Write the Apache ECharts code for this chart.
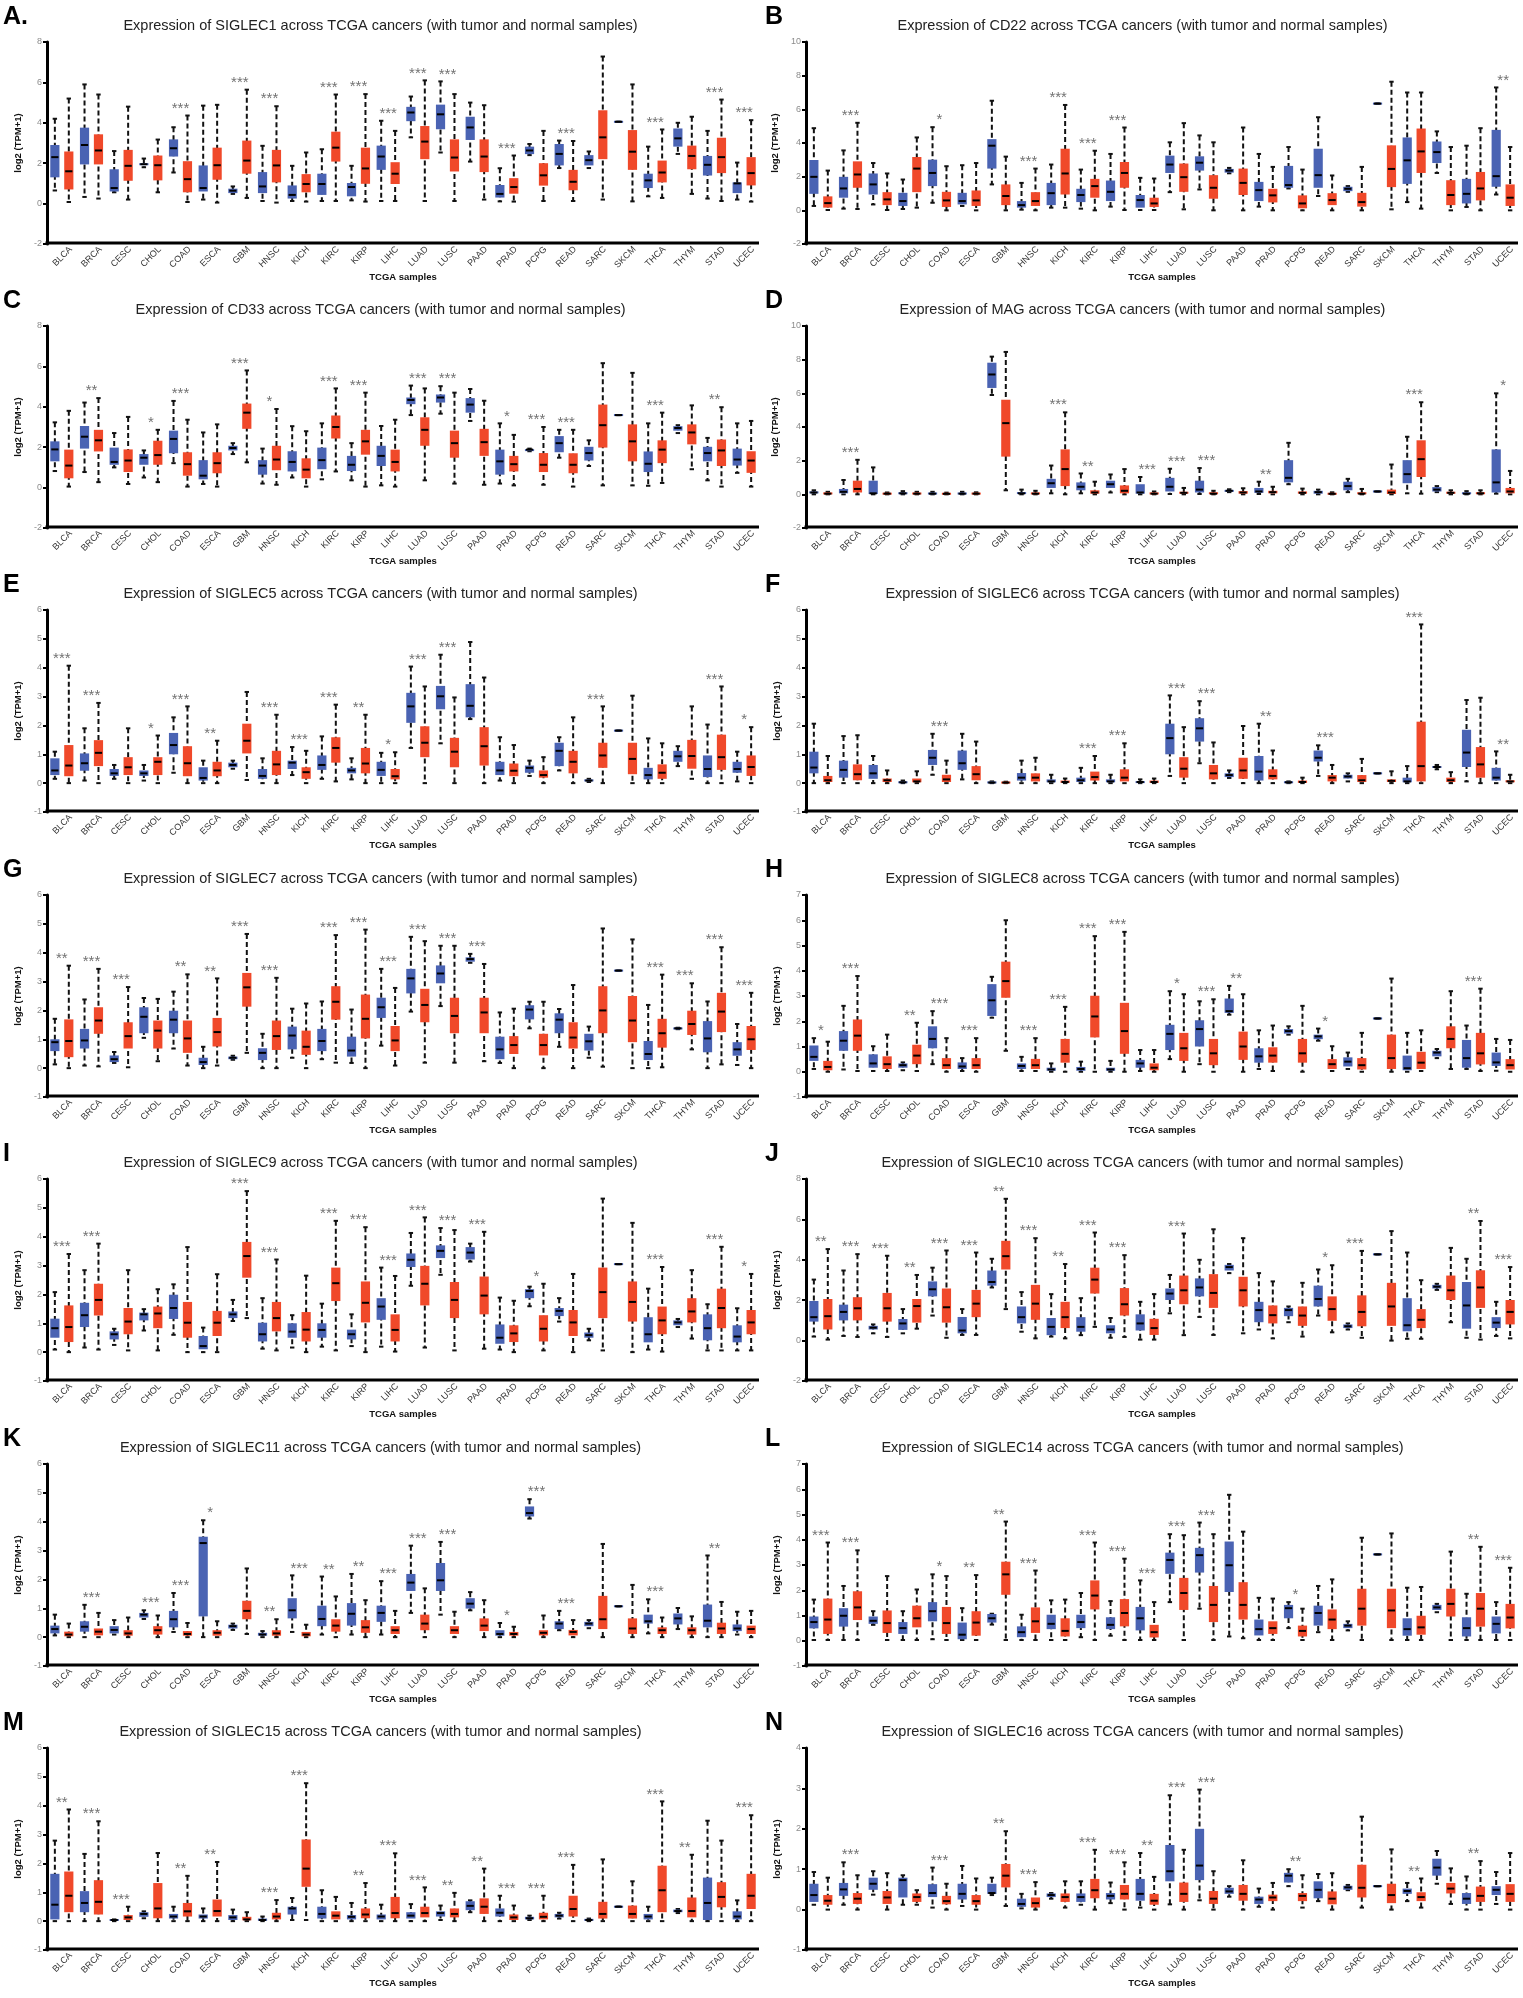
<!DOCTYPE html>
<html>
<head>
<meta charset="utf-8">
<title>SIGLEC expression across TCGA cancers</title>
<script src="https://cdn.jsdelivr.net/npm/echarts@6/dist/echarts.min.js"></script>
<style>
	body { margin: 0; background: #fff; }
	#page { position: relative; width: 1523px; height: 1998px; overflow: hidden; }
	.panel { position: absolute; width: 761px; height: 300px; }
</style>
</head>
<body>
<div id="page"></div>
<script>
// TCGA cancer types, same order in every panel
var cancers = ['BLCA', 'BRCA', 'CESC', 'CHOL', 'COAD', 'ESCA', 'GBM', 'HNSC', 'KICH', 'KIRC', 'KIRP', 'LIHC',
	'LUAD', 'LUSC', 'PAAD', 'PRAD', 'PCPG', 'READ', 'SARC', 'SKCM', 'THCA', 'THYM', 'STAD', 'UCEC'];

// every box is [min, Q1, median, Q3, max] in log2(TPM+1)
var siglec1Normal = [[0.65,1.3,2.3,2.9,4.2],[0.33,1.94,2.9,3.76,5.9],[0.56,0.6,0.77,1.7,2.6],[1.8,1.9,1.95,2.0,2.23],[1.54,2.33,2.74,3.18,3.78],[0.2,0.6,0.77,1.89,4.85],[0.48,0.52,0.64,0.74,0.85],[0.13,0.52,0.85,1.56,2.86],[0.13,0.25,0.43,0.9,1.87],[0.13,0.43,0.97,1.48,2.69],[0.16,0.36,0.82,1.02,1.87],[0.13,1.67,2.33,2.87,4.1],[3.28,4.08,4.51,4.79,5.3],[2.53,3.68,4.42,4.9,6.05],[2.08,3.15,3.77,4.3,5.0],[0.11,0.3,0.48,0.92,1.75],[2.4,2.45,2.63,2.82,2.95],[1.76,1.89,2.46,2.95,3.12],[1.76,1.89,2.15,2.4,2.58],[4.05,4.05,4.05,4.05,4.05],[0.36,0.77,1.15,1.48,2.82],[2.46,2.82,3.23,3.72,4.0],[0.25,1.39,1.92,2.36,3.6],[0.2,0.52,1.0,1.05,2.03]];
var siglec1Tumor = [[0.08,0.7,1.6,2.58,5.2],[0.25,1.94,2.63,3.43,5.4],[0.2,1.13,1.87,2.66,4.8],[0.56,1.15,1.9,2.38,3.17],[0.08,0.56,1.21,2.1,4.36],[0.05,1.18,1.9,2.77,4.89],[0.28,1.48,2.13,3.12,5.64],[0.05,1.05,1.89,2.66,4.82],[0.1,0.56,0.97,1.46,2.53],[0.13,2.08,2.77,3.56,5.4],[0.1,0.98,1.74,2.77,5.42],[0.13,0.97,1.48,2.05,3.6],[0.13,2.2,3.07,3.84,6.1],[0.13,1.59,2.28,3.18,5.42],[0.2,1.56,2.33,3.18,4.87],[0.1,0.49,0.82,1.26,2.38],[0.13,0.89,1.4,2.0,3.6],[0.13,0.66,1.08,1.67,3.1],[0.2,2.2,3.28,4.62,7.28],[0.11,1.67,2.57,3.64,5.9],[0.28,1.05,1.54,2.13,3.67],[0.48,1.7,2.36,2.87,4.3],[0.13,1.51,2.3,3.26,5.15],[0.1,0.9,1.51,2.3,4.13]];
var siglec1Stars = ['','','','','***','','***','***','','***','***','***','***','***','','***','','***','','','***','','***','***'];

var cd22Normal = [[0.26,0.98,1.99,2.99,4.88],[0.1,0.75,1.3,1.99,3.56],[0.35,0.94,1.54,2.19,2.81],[0.08,0.26,0.55,1.04,1.83],[0.45,1.44,2.22,3.01,4.94],[0.26,0.35,0.55,1.04,2.68],[1.54,2.48,3.84,4.23,6.51],[0.04,0.16,0.31,0.55,1.63],[0.16,0.31,1.02,1.63,2.72],[0.1,0.49,0.91,1.28,2.42],[0.22,0.55,1.1,1.77,3.35],[0.02,0.16,0.61,0.91,1.93],[1.08,2.22,2.72,3.25,4.04],[1.24,2.36,2.83,3.21,4.45],[2.2,2.24,2.36,2.46,2.52],[0.22,0.55,1.2,1.69,3.35],[1.3,1.34,1.5,2.64,3.76],[0.85,1.34,2.09,3.66,5.53],[1.1,1.14,1.28,1.4,1.44],[6.34,6.34,6.34,6.34,6.34],[0.49,1.57,2.97,4.33,7.0],[2.22,2.81,3.46,4.09,4.69],[0.2,0.41,0.98,1.87,3.84],[0.94,1.4,2.03,4.78,7.3]];
var cd22Tumor = [[0.02,0.16,0.43,0.83,2.36],[0.08,1.34,2.13,2.91,5.2],[0.02,0.31,0.65,1.08,2.19],[0.16,1.08,2.48,3.17,4.33],[0,0.2,0.59,1.1,2.62],[0,0.26,0.59,1.18,2.81],[0,0.31,0.85,1.54,3.19],[0,0.26,0.55,1.08,2.48],[0.16,0.94,2.19,3.66,6.26],[0,0.75,1.44,1.87,3.54],[0.02,1.34,2.22,2.87,4.92],[0.02,0.2,0.41,0.75,1.89],[0.06,1.1,1.97,2.78,5.18],[0,0.69,1.34,2.09,4.04],[0,0.91,1.63,2.48,4.92],[0,0.47,0.89,1.28,2.58],[0,0.12,0.41,0.89,2.42],[0,0.31,0.61,1.02,2.07],[0,0.22,0.49,1.04,2.58],[0.06,1.38,2.46,3.86,7.64],[0.1,2.22,3.5,4.86,7.0],[0,0.31,0.91,1.79,3.76],[0,0.59,1.3,2.28,4.88],[0,0.26,0.75,1.54,3.76]];
var cd22Stars = ['','***','','','*','','','***','***','***','***','','','','','','','','','','','','','**'];

var cd33Normal = [[0.82,1.3,1.89,2.29,3.23],[0.77,1.93,2.52,3.05,4.21],[1.0,1.13,1.27,1.98,2.7],[0.5,1.13,1.48,1.66,1.84],[1.21,1.7,2.41,2.82,4.29],[0.18,0.41,0.59,1.36,2.73],[1.66,1.84,1.96,2.07,2.2],[0.2,0.64,1.09,1.36,1.93],[0.5,0.8,1.27,1.8,3.04],[0.41,0.91,1.36,1.98,3.18],[0.36,0.82,1.13,1.57,2.2],[0.11,1.07,1.57,2.07,3.05],[3.59,4.13,4.34,4.46,5.05],[3.66,4.21,4.46,4.61,5.02],[3.3,3.71,4.11,4.43,4.88],[0.2,0.64,1.3,1.88,3.18],[1.8,1.82,1.88,1.89,1.93],[1.48,1.75,2.2,2.55,2.86],[1.07,1.34,1.71,2.02,2.34],[3.59,3.59,3.59,3.59,3.59],[0.09,0.77,1.18,1.79,3.18],[2.7,2.82,2.95,3.04,3.09],[0.36,1.3,1.71,2.02,2.46],[0.73,1.09,1.39,1.93,3.18]];
var cd33Tumor = [[0.05,0.46,1.09,1.88,3.8],[0.27,1.79,2.34,2.86,4.43],[0.18,0.77,1.34,1.89,3.5],[0.27,1.13,1.61,2.32,2.86],[0.05,0.59,1.16,1.75,3.36],[0.05,0.71,1.21,1.75,3.13],[1.25,2.91,3.71,4.16,5.8],[0.14,0.86,1.39,2.07,3.89],[0.05,0.46,0.89,1.45,2.79],[0.8,2.43,3.0,3.57,4.91],[0.05,1.63,2.29,2.86,4.7],[0.05,0.8,1.27,1.88,3.36],[0.36,2.07,2.86,3.48,4.91],[0.2,1.48,2.2,2.82,4.7],[0.14,1.57,2.25,2.91,4.3],[0.11,0.8,1.16,1.57,2.61],[0.14,0.77,1.13,1.71,3.0],[0.05,0.71,1.13,1.7,2.86],[0.11,1.98,3.09,4.11,6.16],[0.11,1.3,2.29,3.13,5.68],[0.23,1.21,1.88,2.34,3.71],[0.91,2.14,2.73,3.13,4.07],[0.05,1.07,1.84,2.38,3.98],[0.05,0.73,1.34,1.8,3.3]];
var cd33Stars = ['','**','','*','***','','***','*','','***','***','','***','***','','*','***','***','','','***','','**',''];

var magNormal = [[0,0.06,0.11,0.17,0.24],[0,0.06,0.15,0.32,0.85],[0,0.02,0.06,0.81,1.6],[0,0.02,0.06,0.11,0.19],[0,0.02,0.04,0.08,0.15],[0,0.02,0.04,0.08,0.15],[5.9,6.32,7.12,7.82,8.18],[0,0.02,0.06,0.13,0.28],[0.06,0.38,0.66,0.92,1.71],[0.06,0.24,0.45,0.71,1.24],[0.11,0.38,0.6,0.81,1.18],[0,0.04,0.11,0.6,1.03],[0.02,0.17,0.45,0.98,1.52],[0.02,0.11,0.28,0.81,1.56],[0.13,0.15,0.21,0.26,0.3],[0.02,0.09,0.17,0.38,0.75],[0.6,0.71,0.98,2.03,3.06],[0,0.04,0.13,0.21,0.28],[0.13,0.24,0.49,0.75,0.92],[0.17,0.17,0.17,0.17,0.17],[0.06,0.66,1.2,2.03,3.42],[0.13,0.17,0.28,0.43,0.49],[0,0.02,0.04,0.11,0.19],[0.04,0.11,0.71,2.67,6.0]];
var magTumor = [[0,0.02,0.04,0.09,0.15],[0,0.11,0.32,0.81,2.05],[0,0.02,0.04,0.06,0.11],[0,0.02,0.04,0.08,0.15],[0,0.01,0.03,0.06,0.1],[0,0.02,0.04,0.07,0.12],[0.24,2.24,4.23,5.62,8.46],[0,0.02,0.04,0.09,0.21],[0,0.49,1.5,2.67,4.87],[0,0.04,0.11,0.24,0.75],[0,0.06,0.21,0.53,1.5],[0,0.02,0.04,0.09,0.17],[0,0.04,0.09,0.15,0.38],[0,0.02,0.04,0.11,0.21],[0,0.04,0.11,0.19,0.36],[0,0.06,0.13,0.21,0.45],[0,0.04,0.09,0.17,0.34],[0,0.01,0.03,0.06,0.12],[0,0.02,0.04,0.11,0.32],[0,0.02,0.11,0.28,1.77],[0.04,1.03,2.09,3.21,5.47],[0,0.04,0.09,0.15,0.24],[0,0.02,0.06,0.11,0.24],[0,0.06,0.17,0.38,1.39]];
var magStars = ['','***','','','','','','','***','**','','***','***','***','','**','','','','','***','','','*'];

var siglec5Normal = [[0.15,0.28,0.44,0.86,1.09],[0.09,0.43,0.69,1.03,1.9],[0.15,0.25,0.34,0.49,0.63],[0.09,0.25,0.34,0.44,0.63],[0.36,1.0,1.32,1.74,2.28],[0,0.09,0.18,0.55,0.78],[0.5,0.55,0.63,0.71,0.78],[0,0.15,0.25,0.49,0.86],[0.28,0.49,0.71,0.78,1.25],[0.15,0.46,0.63,0.96,1.62],[0.13,0.34,0.44,0.53,0.86],[0,0.25,0.46,0.74,1.05],[1.22,2.09,2.66,3.13,4.04],[1.38,2.56,3.01,3.37,4.45],[2.22,2.28,2.68,3.43,4.89],[0.09,0.28,0.44,0.74,1.59],[0.25,0.36,0.53,0.61,0.78],[0.44,0.59,1.12,1.4,1.59],[0.04,0.06,0.09,0.13,0.15],[1.82,1.82,1.82,1.82,1.82],[0,0.13,0.28,0.53,1.55],[0.59,0.74,0.93,1.12,1.28],[0,0.21,0.49,0.96,2.03],[0.06,0.36,0.49,0.74,1.09]];
var siglec5Tumor = [[0,0.24,0.61,1.32,4.07],[0,0.59,1.05,1.49,2.78],[0,0.28,0.55,0.9,1.9],[0,0.28,0.74,0.9,1.65],[0,0.24,0.69,1.28,2.66],[0,0.24,0.44,0.74,1.47],[0.11,1.03,1.47,2.06,3.16],[0,0.28,0.65,1.12,2.37],[0,0.15,0.38,0.55,1.12],[0.06,0.71,1.22,1.59,2.72],[0,0.34,0.68,1.22,2.37],[0,0.13,0.24,0.49,1.07],[0,0.9,1.4,1.97,3.35],[0,0.55,1.09,1.57,2.97],[0,0.61,1.28,1.94,3.66],[0,0.24,0.43,0.68,1.32],[0,0.19,0.28,0.44,0.9],[0,0.34,0.74,1.12,2.28],[0,0.53,0.96,1.4,2.66],[0,0.31,0.84,1.4,3.03],[0,0.15,0.36,0.65,1.38],[0.15,0.5,0.94,1.5,2.66],[0,0.46,0.9,1.68,3.35],[0,0.25,0.56,0.96,1.94]];
var siglec5Stars = ['***','***','','*','***','**','','***','***','***','**','*','***','***','','','','','***','','','','***','*'];

var siglec6Normal = [[0,0.34,0.54,1.09,2.06],[0,0.19,0.46,0.78,1.63],[0,0.15,0.34,0.63,0.94],[0,0.01,0.03,0.05,0.09],[0.29,0.63,0.88,1.15,1.71],[0.13,0.46,0.69,1.13,1.71],[0,0.01,0.02,0.04,0.06],[0,0.09,0.19,0.35,0.78],[0,0.03,0.06,0.13,0.29],[0,0.04,0.1,0.19,0.53],[0,0.03,0.06,0.13,0.29],[0,0.01,0.04,0.06,0.13],[0.25,1.0,1.56,2.06,3.04],[0.69,1.44,1.9,2.25,2.84],[0.18,0.21,0.28,0.34,0.44],[0,0.09,0.4,0.94,2.06],[0,0.01,0.03,0.05,0.06],[0.25,0.75,0.88,1.13,1.31],[0.06,0.16,0.23,0.29,0.34],[0.34,0.34,0.34,0.34,0.34],[0,0.03,0.06,0.19,0.59],[0.48,0.53,0.56,0.59,0.63],[0.06,0.56,1.06,1.85,2.88],[0,0.09,0.19,0.53,1.1]];
var siglec6Tumor = [[0,0.04,0.1,0.25,0.94],[0,0.1,0.31,0.65,1.66],[0,0.04,0.1,0.16,0.44],[0,0.03,0.06,0.16,0.41],[0,0.04,0.13,0.29,0.78],[0,0.1,0.31,0.59,1.44],[0,0.01,0.02,0.03,0.05],[0,0.06,0.19,0.34,0.88],[0,0.01,0.04,0.09,0.16],[0,0.09,0.21,0.4,0.94],[0,0.06,0.19,0.48,1.38],[0,0.01,0.04,0.09,0.16],[0,0.19,0.5,0.9,1.94],[0,0.13,0.34,0.63,1.41],[0,0.15,0.44,0.88,1.98],[0,0.13,0.25,0.48,1.13],[0,0.01,0.04,0.09,0.19],[0,0.06,0.19,0.28,0.63],[0,0.04,0.1,0.28,0.84],[0,0.04,0.08,0.13,0.41],[0,0.06,0.59,2.13,5.5],[0,0.04,0.1,0.19,0.38],[0,0.19,0.65,1.25,2.96],[0,0.03,0.06,0.1,0.29]];
var siglec6Stars = ['','','','','***','','','','','***','***','','***','***','','**','','***','','','***','','','**'];

var siglec7Normal = [[0.13,0.59,0.9,1.0,1.71],[0.09,0.68,0.96,1.36,2.38],[0.18,0.21,0.31,0.44,0.56],[1.05,1.21,1.78,2.11,2.43],[0.68,1.21,1.68,1.99,2.65],[0,0.11,0.21,0.36,0.74],[0.29,0.31,0.36,0.4,0.43],[0,0.28,0.53,0.69,1.19],[0.36,0.65,1.13,1.44,2.06],[0.31,0.59,0.94,1.36,2.31],[0.18,0.4,0.61,1.09,2.03],[0.78,1.74,2.11,2.44,3.44],[1.96,2.59,3.11,3.44,4.55],[2.15,2.94,3.28,3.56,4.24],[3.65,3.69,3.78,3.84,3.96],[0.18,0.31,0.65,1.09,1.93],[1.38,1.69,2.03,2.18,2.3],[0.74,1.21,1.68,1.9,2.05],[0.36,0.61,0.93,1.19,1.44],[3.38,3.38,3.38,3.38,3.38],[0,0.28,0.49,0.94,2.19],[1.35,1.36,1.38,1.39,1.4],[0,0.55,1.03,1.63,2.31],[0.11,0.43,0.65,0.9,1.53]];
var siglec7Tumor = [[0,0.38,0.94,1.69,3.55],[0.06,1.19,1.65,2.11,3.44],[0.03,0.68,1.11,1.59,2.81],[0.24,0.68,1.3,1.65,2.4],[0.09,0.53,1.03,1.65,3.25],[0.09,0.75,1.25,1.74,3.11],[0.53,2.13,2.8,3.3,4.65],[0,0.63,1.11,1.65,3.13],[0,0.46,0.74,1.3,2.24],[0.19,1.68,2.3,2.84,4.61],[0,1.03,1.71,2.55,4.8],[0.09,0.59,0.96,1.46,2.78],[0.19,1.59,2.19,2.75,4.4],[0.19,1.21,1.81,2.44,4.24],[0.24,1.21,1.93,2.44,3.61],[0,0.49,0.8,1.11,2.06],[0,0.44,0.8,1.19,2.3],[0,0.68,1.06,1.59,2.88],[0.05,1.21,2.0,2.84,4.84],[0,0.9,1.65,2.5,4.46],[0.03,0.71,1.21,1.71,3.24],[0.65,1.15,1.53,1.99,2.94],[0.13,1.25,1.96,2.61,4.19],[0,0.63,1.0,1.46,2.61]];
var siglec7Stars = ['**','***','***','','**','**','***','***','','***','***','***','***','***','***','','','','','','***','***','***','***'];

var siglec8Normal = [[0.11,0.43,0.59,1.04,1.33],[0.09,0.83,1.23,1.61,2.61],[0.03,0.16,0.33,0.69,1.01],[0.06,0.16,0.26,0.33,0.37],[0.3,0.93,1.3,1.8,2.4],[0.03,0.11,0.21,0.37,0.54],[2.14,2.21,2.83,3.47,3.76],[0.03,0.11,0.23,0.33,0.59],[0,0.04,0.09,0.16,0.33],[0,0.04,0.11,0.19,0.4],[0,0.04,0.09,0.16,0.43],[0.03,0.16,0.33,0.47,0.86],[0.5,0.86,1.5,1.86,3.19],[0.3,1.0,1.69,2.04,2.79],[2.26,2.33,2.4,2.9,3.4],[0.11,0.36,0.61,0.93,1.64],[1.47,1.51,1.61,1.69,1.8],[1.23,1.29,1.4,1.47,1.71],[0.11,0.21,0.4,0.57,0.76],[2.11,2.11,2.11,2.11,2.11],[0,0.06,0.14,0.64,1.54],[0.54,0.61,0.76,0.83,0.9],[0.11,0.16,0.54,1.26,1.83],[0.04,0.23,0.37,0.76,1.3]];
var siglec8Tumor = [[0,0.06,0.19,0.43,1.19],[0.03,0.83,1.43,2.07,3.79],[0.03,0.11,0.3,0.61,1.47],[0.03,0.3,0.64,1.07,1.94],[0,0.11,0.26,0.54,1.33],[0,0.11,0.26,0.54,1.33],[0.83,2.93,3.59,4.36,6.0],[0.03,0.11,0.26,0.51,1.33],[0,0.36,0.71,1.3,2.57],[0,1.36,2.19,3.01,5.37],[0,0.71,1.61,2.73,5.54],[0,0.06,0.16,0.33,0.86],[0,0.43,0.93,1.54,3.07],[0,0.26,0.73,1.3,2.87],[0,0.47,1.0,1.59,3.07],[0.03,0.36,0.64,0.97,1.83],[0,0.36,0.73,1.3,2.61],[0.03,0.11,0.3,0.5,1.01],[0,0.09,0.26,0.54,1.54],[0,0.11,0.54,1.47,3.69],[0.03,0.11,0.36,0.79,1.64],[0.11,0.93,1.3,1.8,3.19],[0.03,0.29,0.73,1.54,3.29],[0,0.09,0.26,0.5,1.26]];
var siglec8Stars = ['*','***','','**','***','***','','***','***','***','***','','*','***','**','','','*','','','','','***',''];

var siglec9Normal = [[0.09,0.5,0.83,1.16,2.08],[0.16,0.87,1.28,1.71,2.84],[0.25,0.44,0.62,0.72,0.81],[0.75,1.1,1.31,1.37,1.49],[0.6,1.15,1.53,1.99,2.35],[0,0.1,0.21,0.56,0.85],[1.08,1.18,1.31,1.41,1.81],[0.12,0.37,0.62,1.02,1.87],[0.16,0.5,0.71,1.0,1.28],[0.19,0.5,0.77,1.0,1.68],[0.21,0.44,0.62,0.78,1.31],[0.19,1.12,1.58,1.87,2.93],[2.3,2.95,3.2,3.42,4.13],[2.68,3.26,3.51,3.7,4.3],[3.14,3.21,3.45,3.64,3.76],[0.09,0.29,0.5,0.96,1.89],[1.59,1.87,2.12,2.18,2.27],[1.06,1.25,1.43,1.53,1.87],[0.41,0.5,0.59,0.68,0.81],[3.05,3.05,3.05,3.05,3.05],[0.09,0.34,0.62,1.21,2.2],[0.87,0.93,1.03,1.1,1.15],[0.06,0.41,0.83,1.31,1.66],[0.06,0.34,0.54,0.93,1.52]];
var siglec9Tumor = [[0,0.35,0.87,1.62,3.4],[0.09,1.27,1.81,2.37,3.76],[0.06,0.62,1.06,1.53,2.84],[0.06,0.83,1.34,1.58,2.18],[0,0.5,1.02,1.74,3.64],[0,0.56,1.02,1.43,2.7],[1.18,2.58,3.33,3.82,5.58],[0.06,0.72,1.18,1.74,3.21],[0,0.37,0.78,1.39,2.65],[0.06,1.77,2.39,2.93,4.55],[0,1.03,1.71,2.45,4.33],[0.02,0.37,0.77,1.31,2.64],[0.16,1.62,2.37,2.99,4.67],[0.06,1.18,1.81,2.43,4.23],[0.12,1.31,1.96,2.62,4.17],[0,0.35,0.65,0.93,1.78],[0.06,0.37,0.81,1.28,2.37],[0,0.56,1.03,1.46,2.71],[0.06,1.18,2.08,2.93,5.32],[0,1.06,1.74,2.45,4.48],[0.02,0.62,1.1,1.58,2.95],[0.47,1.03,1.41,1.87,2.84],[0.06,0.83,1.53,2.2,3.65],[0.06,0.62,1.03,1.46,2.71]];
var siglec9Stars = ['***','***','','','','','***','***','','***','***','***','***','***','***','','*','','','','***','','***','*'];

var siglec10Normal = [[0.2,0.94,1.16,1.96,3.02],[0.23,1.0,1.42,1.78,3.47],[0.36,0.55,0.64,0.73,0.8],[0.36,0.53,0.85,1.07,1.56],[1.24,2.19,2.54,2.93,3.61],[0.28,0.36,0.5,1.17,1.56],[2.63,2.72,2.9,3.47,4.05],[0.44,0.85,1.16,1.69,2.4],[0.2,0.27,0.68,1.12,2.3],[0.27,0.44,0.68,1.16,2.1],[0.14,0.36,0.55,0.76,1.12],[0.05,0.5,0.85,1.3,1.92],[1.35,2.01,2.33,2.58,3.25],[1.17,2.19,2.63,3.08,4.0],[3.34,3.47,3.64,3.75,3.79],[0.55,0.91,1.51,1.92,3.34],[0.91,1.21,1.51,1.62,1.69],[1.24,1.69,2.06,2.72,3.52],[0.55,0.62,0.71,0.8,0.85],[4.27,4.27,4.27,4.27,4.27],[0.09,0.46,0.76,2.1,4.36],[2.51,2.58,2.67,2.76,2.81],[0.14,0.59,1.74,2.9,4.05],[0.23,0.62,0.89,1.16,1.92]];
var siglec10Tumor = [[0.05,0.55,1.21,2.06,4.53],[0.18,1.0,1.6,2.15,4.28],[0.18,0.94,1.6,2.36,4.2],[0.59,0.89,1.71,2.06,3.25],[0.14,0.89,1.65,2.58,4.46],[0.28,1.16,1.83,2.51,4.36],[1.56,3.52,4.18,4.94,7.02],[0.11,1.03,1.83,2.76,5.07],[0.11,0.62,1.16,1.92,3.79],[0.68,2.33,3.02,3.61,5.35],[0.18,1.24,1.8,2.6,4.23],[0.05,0.28,0.62,1.08,2.3],[0.27,1.8,2.49,3.22,5.3],[0.28,1.62,2.36,3.29,5.51],[0.36,1.69,2.49,3.16,5.07],[0.11,0.85,1.26,1.74,2.93],[0.2,0.73,1.24,1.69,2.86],[0.41,0.98,1.56,2.19,3.73],[0.14,0.71,1.42,2.24,4.44],[0,0.73,1.69,2.86,5.42],[0.09,0.62,1.03,1.56,2.99],[0.91,2.01,2.49,3.22,4.59],[0.05,1.62,2.63,3.48,5.92],[0.11,0.8,1.42,2.01,3.64]];
var siglec10Stars = ['**','***','***','**','***','***','**','***','**','***','***','','***','','','','','*','***','','','','**','***'];

var siglec11Normal = [[0.06,0.13,0.28,0.4,0.78],[0,0.19,0.36,0.55,1.12],[0.09,0.13,0.25,0.38,0.59],[0.63,0.68,0.78,0.84,0.93],[0.18,0.34,0.62,0.91,1.53],[0,0.72,3.26,3.48,4.05],[0.25,0.3,0.38,0.43,0.47],[0,0.05,0.09,0.15,0.21],[0.18,0.65,0.93,1.35,2.14],[0.09,0.38,0.63,1.09,2.1],[0.09,0.4,0.81,1.18,2.19],[0.09,0.53,0.84,1.09,1.94],[0.84,1.6,1.89,2.19,3.17],[0.78,1.6,1.97,2.57,3.3],[0.93,0.99,1.16,1.35,1.56],[0,0.05,0.11,0.24,0.49],[4.11,4.18,4.3,4.53,4.78],[0.24,0.28,0.47,0.55,0.91],[0.31,0.38,0.47,0.53,0.59],[1.07,1.07,1.07,1.07,1.07],[0.13,0.47,0.55,0.78,1.31],[0.28,0.44,0.65,0.82,1.01],[0,0.34,0.57,1.13,2.83],[0.09,0.21,0.3,0.44,0.88]];
var siglec11Tumor = [[0,0.03,0.09,0.19,0.47],[0,0.06,0.19,0.3,0.84],[0,0.05,0.13,0.24,0.68],[0,0.09,0.24,0.38,0.75],[0,0.05,0.11,0.21,0.49],[0,0.05,0.15,0.24,0.55],[0.11,0.62,0.91,1.26,2.38],[0,0.05,0.13,0.24,0.62],[0,0.03,0.09,0.18,0.43],[0,0.19,0.4,0.62,1.41],[0,0.15,0.34,0.59,1.28],[0,0.11,0.24,0.38,0.91],[0,0.24,0.47,0.78,1.69],[0,0.11,0.24,0.38,0.88],[0,0.21,0.4,0.65,1.28],[0,0.05,0.11,0.18,0.36],[0,0.06,0.15,0.24,0.75],[0,0.06,0.18,0.25,0.59],[0,0.28,0.62,1.43,3.23],[0,0.11,0.3,0.65,1.81],[0,0.11,0.24,0.34,0.68],[0,0.09,0.24,0.34,0.72],[0,0.11,0.3,0.5,1.22],[0,0.11,0.28,0.4,0.91]];
var siglec11Stars = ['','***','','***','***','*','','**','***','**','**','***','***','***','','*','***','***','','','***','','**',''];

var siglec14Normal = [[0.03,0.49,0.74,0.96,1.63],[0.03,0.56,0.99,1.29,2.17],[0.63,0.67,0.79,0.96,1.17],[0.03,0.27,0.5,0.74,1.17],[0.06,0.77,1.17,1.53,2.63],[0.03,0.06,0.24,0.72,1.29],[0.64,0.72,0.89,1.06,1.07],[0.03,0.14,0.34,0.57,1.03],[0.03,0.46,0.67,1.03,1.6],[0.14,0.5,0.74,1.03,1.89],[0.2,0.46,0.63,0.93,1.57],[0.03,0.41,0.89,1.34,2.39],[1.53,2.65,3.2,3.49,4.22],[1.27,2.7,3.39,3.68,4.68],[0.17,1.93,2.99,3.93,5.78],[0.03,0.21,0.46,0.84,1.7],[0.5,0.89,1.29,1.42,1.53],[0.34,0.6,1.1,1.39,2.17],[0.41,0.5,0.6,0.67,0.77],[3.42,3.42,3.42,3.42,3.42],[0.03,0.2,0.46,0.89,2.1],[1.13,1.22,1.32,1.42,1.46],[0.03,0.17,0.5,0.93,1.86],[0.03,0.29,0.67,0.96,1.53]];
var siglec14Tumor = [[0.03,0.27,0.84,1.67,3.89],[0.03,0.82,1.32,1.96,3.58],[0.03,0.31,0.7,1.2,2.56],[0.03,0.53,0.89,1.39,2.03],[0.03,0.27,0.7,1.34,2.56],[0.03,0.2,0.72,1.17,2.6],[0.03,1.82,2.63,3.13,4.72],[0.03,0.31,0.77,1.32,2.78],[0.03,0.17,0.39,0.89,1.63],[0.03,1.24,1.79,2.39,3.89],[0.03,0.57,1.1,1.65,3.25],[0.03,0.13,0.34,0.63,1.53],[0.03,1.22,1.89,2.49,4.18],[0.03,0.74,1.42,2.17,4.22],[0.1,0.84,1.42,2.32,4.32],[0.03,0.27,0.5,0.77,1.67],[0.03,0.17,0.39,0.6,1.27],[0.03,0.46,0.84,1.24,2.43],[0.03,0.6,1.27,2.06,4.08],[0.03,0.5,1.2,2.06,4.25],[0.03,0.24,0.53,0.99,2.13],[0.03,0.96,1.46,2.06,3.53],[0.03,0.56,1.27,1.89,3.72],[0.03,0.49,0.92,1.46,2.89]];
var siglec14Stars = ['***','***','','','*','**','**','***','','***','***','***','***','***','','','*','','','','','','**','***'];

var siglec15Normal = [[0,0.06,0.57,1.64,2.79],[0,0.31,0.63,1.04,2.33],[0,0.03,0.04,0.05,0.06],[0.1,0.15,0.25,0.31,0.34],[0,0.09,0.16,0.25,0.5],[0,0.09,0.16,0.23,0.44],[0,0.04,0.13,0.21,0.4],[0,0.01,0.04,0.09,0.16],[0.04,0.23,0.44,0.5,0.8],[0,0.09,0.25,0.5,1.07],[0,0.06,0.15,0.21,0.63],[0,0.06,0.16,0.23,0.57],[0,0.09,0.19,0.31,0.59],[0.04,0.16,0.28,0.34,0.54],[0.31,0.38,0.53,0.69,0.72],[0,0.16,0.29,0.44,0.88],[0.04,0.06,0.1,0.15,0.19],[0.09,0.13,0.19,0.25,0.29],[0,0.03,0.04,0.06,0.09],[0.5,0.5,0.5,0.5,0.5],[0,0.06,0.16,0.25,0.5],[0.28,0.31,0.35,0.4,0.42],[0,0.04,0.63,1.51,3.48],[0,0.06,0.16,0.34,0.72]];
var siglec15Tumor = [[0,0.31,0.88,1.72,3.87],[0,0.23,0.67,1.42,3.46],[0,0.04,0.13,0.21,0.5],[0,0.1,0.44,1.32,2.36],[0,0.16,0.34,0.63,1.57],[0,0.16,0.35,0.75,2.05],[0,0.03,0.06,0.15,0.31],[0,0.06,0.16,0.29,0.73],[0.04,1.19,1.82,2.83,4.78],[0,0.06,0.19,0.34,0.84],[0,0.1,0.23,0.44,1.32],[0,0.1,0.28,0.84,2.35],[0,0.13,0.28,0.5,1.17],[0,0.13,0.25,0.44,0.98],[0,0.25,0.5,0.79,1.82],[0,0.04,0.13,0.23,0.54],[0,0.06,0.15,0.29,0.88],[0,0.16,0.42,0.88,1.95],[0,0.09,0.25,0.67,2.14],[0,0.09,0.25,0.54,1.38],[0,0.31,1.07,1.92,4.15],[0,0.13,0.35,0.82,2.3],[0,0.48,0.84,1.35,2.79],[0,0.42,0.88,1.64,3.67]];
var siglec15Stars = ['**','***','***','','**','**','','***','***','','**','***','***','**','**','***','***','***','','','***','**','','***'];

var siglec16Normal = [[0.12,0.19,0.36,0.64,0.93],[0.12,0.34,0.5,0.66,1.17],[0.37,0.49,0.64,0.79,0.95],[0.12,0.3,0.73,0.79,0.85],[0.05,0.31,0.41,0.63,1.04],[0.09,0.25,0.39,0.64,1.08],[0.36,0.39,0.41,0.64,0.79],[0.03,0.07,0.14,0.27,0.39],[0.27,0.31,0.36,0.4,0.41],[0.12,0.19,0.31,0.4,0.7],[0.16,0.25,0.34,0.41,0.67],[0.05,0.22,0.39,0.76,1.4],[0.13,0.7,0.95,1.6,2.83],[0.23,0.73,1.09,2.0,2.97],[0.32,0.39,0.45,0.54,0.58],[0.07,0.14,0.25,0.32,0.52],[0.58,0.67,0.84,0.91,1.0],[0.21,0.28,0.49,0.7,0.88],[0.48,0.49,0.55,0.59,0.61],[0.58,0.58,0.58,0.58,0.58],[0.21,0.39,0.46,0.52,0.66],[0.64,0.84,1.04,1.26,1.45],[0,0.14,0.27,0.41,0.82],[0.14,0.36,0.49,0.58,0.93]];
var siglec16Tumor = [[0,0.12,0.22,0.36,0.79],[0,0.14,0.27,0.41,0.85],[0,0.14,0.3,0.46,0.9],[0.12,0.19,0.31,0.4,0.48],[0,0.13,0.21,0.34,0.64],[0,0.12,0.21,0.36,0.77],[0.09,0.55,0.84,1.13,1.94],[0,0.05,0.16,0.3,0.68],[0.05,0.19,0.31,0.4,0.7],[0,0.28,0.48,0.76,1.48],[0,0.25,0.39,0.61,1.17],[0,0.12,0.22,0.39,0.81],[0,0.19,0.39,0.67,1.48],[0,0.14,0.27,0.46,0.95],[0,0.22,0.39,0.61,1.22],[0,0.21,0.3,0.37,0.66],[0.05,0.21,0.34,0.41,0.85],[0,0.13,0.27,0.45,0.9],[0.05,0.3,0.54,1.11,2.3],[0,0.16,0.36,0.64,1.49],[0.05,0.21,0.31,0.43,0.77],[0.14,0.4,0.52,0.66,1.02],[0,0.19,0.34,0.57,1.2],[0,0.19,0.39,0.63,1.4]];
var siglec16Stars = ['','***','','','***','','**','***','','***','***','**','***','***','','','**','','','','**','','**',''];

var NORMAL_COLOR = '#4a63b3';
var TUMOR_COLOR = '#f0492a';
var FONT = '"Liberation Sans", Arial, sans-serif';
var GRID_W = 712;

// 面板布局: 两列七行
var panels = [
	{ letter: 'A.', gene: 'SIGLEC1',  normal: siglec1Normal,  tumor: siglec1Tumor,  stars: siglec1Stars,  min: -2, max: 8,  step: 2, col: 0, row: 0 },
	{ letter: 'B',  gene: 'CD22',     normal: cd22Normal,     tumor: cd22Tumor,     stars: cd22Stars,     min: -2, max: 10, step: 2, col: 1, row: 0 },
	{ letter: 'C',  gene: 'CD33',     normal: cd33Normal,     tumor: cd33Tumor,     stars: cd33Stars,     min: -2, max: 8,  step: 2, col: 0, row: 1 },
	{ letter: 'D',  gene: 'MAG',      normal: magNormal,      tumor: magTumor,      stars: magStars,      min: -2, max: 10, step: 2, col: 1, row: 1 },
	{ letter: 'E',  gene: 'SIGLEC5',  normal: siglec5Normal,  tumor: siglec5Tumor,  stars: siglec5Stars,  min: -1, max: 6,  step: 1, col: 0, row: 2 },
	{ letter: 'F',  gene: 'SIGLEC6',  normal: siglec6Normal,  tumor: siglec6Tumor,  stars: siglec6Stars,  min: -1, max: 6,  step: 1, col: 1, row: 2 },
	{ letter: 'G',  gene: 'SIGLEC7',  normal: siglec7Normal,  tumor: siglec7Tumor,  stars: siglec7Stars,  min: -1, max: 6,  step: 1, col: 0, row: 3 },
	{ letter: 'H',  gene: 'SIGLEC8',  normal: siglec8Normal,  tumor: siglec8Tumor,  stars: siglec8Stars,  min: -1, max: 7,  step: 1, col: 1, row: 3 },
	{ letter: 'I',  gene: 'SIGLEC9',  normal: siglec9Normal,  tumor: siglec9Tumor,  stars: siglec9Stars,  min: -1, max: 6,  step: 1, col: 0, row: 4 },
	{ letter: 'J',  gene: 'SIGLEC10', normal: siglec10Normal, tumor: siglec10Tumor, stars: siglec10Stars, min: -2, max: 8,  step: 2, col: 1, row: 4 },
	{ letter: 'K',  gene: 'SIGLEC11', normal: siglec11Normal, tumor: siglec11Tumor, stars: siglec11Stars, min: -1, max: 6,  step: 1, col: 0, row: 5 },
	{ letter: 'L',  gene: 'SIGLEC14', normal: siglec14Normal, tumor: siglec14Tumor, stars: siglec14Stars, min: -1, max: 7,  step: 1, col: 1, row: 5 },
	{ letter: 'M',  gene: 'SIGLEC15', normal: siglec15Normal, tumor: siglec15Tumor, stars: siglec15Stars, min: -1, max: 6,  step: 1, col: 0, row: 6 },
	{ letter: 'N',  gene: 'SIGLEC16', normal: siglec16Normal, tumor: siglec16Tumor, stars: siglec16Stars, min: -1, max: 4,  step: 1, col: 1, row: 6 }
];
var rowTops = [0, 284, 568, 853, 1137, 1422, 1706];

// one box: dashed whisker, caps, filled box, black median
function boxRenderer(side, color) {
	return function(params, api) {
		var i = api.value(0);
		var band = api.size([1, 0])[0];
		var cx = api.coord([i, 0])[0] + side * band * 0.235;
		var w = band * 0.31;
		var yMin = api.coord([i, api.value(1)])[1];
		var yQ1 = api.coord([i, api.value(2)])[1];
		var yMed = api.coord([i, api.value(3)])[1];
		var yQ3 = api.coord([i, api.value(4)])[1];
		var yMax = api.coord([i, api.value(5)])[1];
		var cap = 2.2;
		var h = Math.max(yQ1 - yQ3, 2);
		var mid = (yQ1 + yQ3) / 2;
		return {
			type: 'group',
			children: [
				{ type: 'line', shape: { x1: cx, y1: yMax, x2: cx, y2: yMin },
					style: { stroke: '#111', lineWidth: 2, lineDash: [5, 3] } },
				{ type: 'line', shape: { x1: cx - cap, y1: yMax, x2: cx + cap, y2: yMax },
					style: { stroke: '#111', lineWidth: 2 } },
				{ type: 'line', shape: { x1: cx - cap, y1: yMin, x2: cx + cap, y2: yMin },
					style: { stroke: '#111', lineWidth: 2 } },
				{ type: 'rect', shape: { x: cx - w / 2, y: mid - h / 2, width: w, height: h },
					style: { fill: color } },
				{ type: 'line', shape: { x1: cx - w / 2 + 1, y1: yMed, x2: cx + w / 2 - 1, y2: yMed },
					style: { stroke: '#000', lineWidth: 2 } }
			]
		};
	};
}

function boxData(list) {
	return list.map(function(b, i) {
		return [i, b[0], b[1], b[2], b[3], b[4]];
	});
}

// 显著性标记放在两个箱子中较高的须上方
function starData(p) {
	var out = [];
	for (var i = 0; i < p.stars.length; i++) {
		if (p.stars[i] === '') continue;
		out.push([i, Math.max(p.normal[i][4], p.tumor[i][4]), p.stars[i]]);
	}
	return out;
}

function drawPanel(p) {
	var div = document.createElement('div');
	div.className = 'panel';
	div.style.left = (p.col * 762) + 'px';
	div.style.top = rowTops[p.row] + 'px';
	document.getElementById('page').appendChild(div);
	var chart = echarts.init(div, null, { renderer: 'canvas' });
	var gridLeft = p.col ? 44 : 47;

	chart.setOption({
		animation: false,
		textStyle: { fontFamily: FONT },
		title: {
			text: 'Expression of ' + p.gene + ' across TCGA cancers (with tumor and normal samples)',
			left: 'center',
			top: 13,
			textStyle: { fontSize: 14.5, fontWeight: 'normal', color: '#222', fontFamily: FONT }
		},
		graphic: [{
			id: 'letter', type: 'text', left: 3, top: 5,
			style: { text: p.letter, font: 'bold 25px ' + FONT, fill: '#000' }
		}],
		// second grid is the same plot area nudged right, it only carries the cancer labels
		grid: [
			{ left: gridLeft, top: 42, width: GRID_W, height: 202, outerBoundsMode: 'none' },
			{ left: gridLeft + 9, top: 42, width: GRID_W, height: 202, outerBoundsMode: 'none' }
		],
		xAxis: [{
			type: 'category',
			data: cancers,
			name: 'TCGA samples',
			nameLocation: 'middle',
			nameGap: 28,
			nameTextStyle: { fontSize: 9.5, fontWeight: 'bold', color: '#111' },
			axisLine: { show: false },
			axisTick: { show: false },
			axisLabel: { show: false }
		}, {
			type: 'category',
			gridIndex: 1,
			data: cancers,
			axisLine: { show: false },
			axisTick: { show: false },
			axisLabel: { rotate: 45, fontSize: 9, color: '#333', margin: 4, interval: 0 }
		}],
		yAxis: [{
			type: 'value',
			min: p.min,
			max: p.max,
			interval: p.step,
			name: 'log2 (TPM+1)',
			nameLocation: 'middle',
			nameGap: 21,
			nameTextStyle: { fontSize: 9.5, fontWeight: 'bold', color: '#111' },
			axisLine: { show: true, onZero: false, lineStyle: { color: '#000', width: 3 } },
			axisTick: { show: true, length: 4, lineStyle: { color: '#000', width: 2 } },
			axisLabel: { fontSize: 9, color: '#8c8c8c', margin: 5 },
			splitLine: { show: false }
		}, {
			type: 'value',
			gridIndex: 1,
			min: p.min,
			max: p.max,
			show: false
		}],
		series: [{
			name: 'Normal',
			type: 'custom',
			renderItem: boxRenderer(-1, NORMAL_COLOR),
			encode: { x: 0, y: [1, 2, 3, 4, 5] },
			data: boxData(p.normal),
			z: 2
		}, {
			name: 'Tumor',
			type: 'custom',
			renderItem: boxRenderer(1, TUMOR_COLOR),
			encode: { x: 0, y: [1, 2, 3, 4, 5] },
			data: boxData(p.tumor),
			z: 2
		}, {
			name: 'Significance',
			type: 'scatter',
			symbolSize: 1,
			itemStyle: { color: 'rgba(0,0,0,0)' },
			silent: true,
			data: starData(p),
			label: {
				show: true,
				position: 'top',
				distance: -1,
				fontSize: 15,
				color: '#4d4d4d',
				formatter: function(v) { return v.value[2]; }
			},
			z: 3
		}]
	});

	// 底部粗横轴: 取 y 轴最小值所在像素, 画在最上层
	var yBase = chart.convertToPixel({ yAxisIndex: 0 }, p.min);
	chart.setOption({
		graphic: [{
			id: 'baseline', type: 'line', z: 100, silent: true,
			shape: { x1: gridLeft - 1.5, y1: yBase - 1, x2: gridLeft + GRID_W, y2: yBase - 1 },
			style: { stroke: '#000', lineWidth: 3 }
		}]
	});
	return chart;
}

panels.forEach(drawPanel);
</script>
</body>
</html>
